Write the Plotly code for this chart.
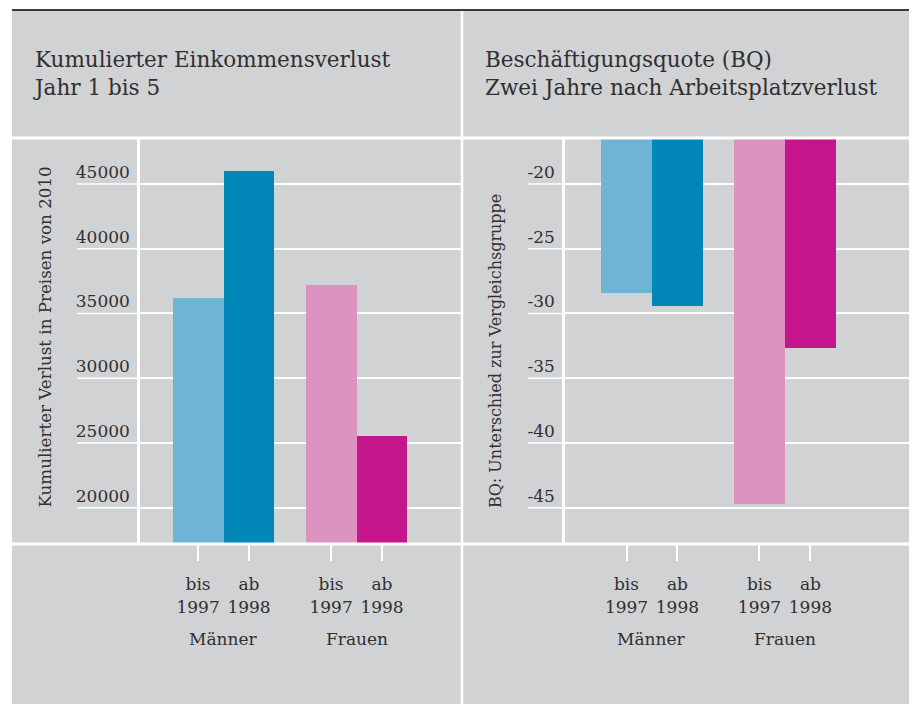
import plotly.graph_objects as go

# ---------------- data ----------------
groups = ["Männer", "Frauen"]
periods = ["bis<br>1997", "ab<br>1998"]

einkommen_bis_1997 = [36200, 37200]
einkommen_ab_1998 = [46000, 25500]

bq_bis_1997 = [-28.4, -44.7]
bq_ab_1998 = [-29.4, -32.7]

einkommen_ticks = [20000, 25000, 30000, 35000, 40000, 45000]
bq_ticks = [-45, -40, -35, -30, -25, -20]

title_left = "Kumulierter Einkommensverlust<br>Jahr 1 bis 5"
title_right = "Beschäftigungsquote (BQ)<br>Zwei Jahre nach Arbeitsplatzverlust"
ytitle_left = "Kumulierter Verlust in Preisen von 2010"
ytitle_right = "BQ: Unterschied zur Vergleichsgruppe"

# ---------------- style ----------------
OFF = 8                      # browser body margin
W, H = 917 - OFF, 704 - OFF
FONT = "DejaVu Serif"
TXT = "#303030"
GRAY = "#d1d2d4"
colors_bis = ["#70b4d5", "#dc93c0"]
colors_ab = ["#0087b8", "#c4168a"]
bar_w = 0.383


def fx(p):
    return (p - OFF) / W


def fy(p):
    return 1 - (p - OFF) / H


series = [(einkommen_bis_1997, einkommen_ab_1998), (bq_bis_1997, bq_ab_1998)]
offsets = [-bar_w / 2, bar_w / 2]

fig = go.Figure()
for k, (bis, ab) in enumerate(series):
    xa = "x" if k == 0 else "x2"
    ya = "y" if k == 0 else "y2"
    for i, (vals, cols) in enumerate([(bis, colors_bis), (ab, colors_ab)]):
        fig.add_trace(go.Bar(
            x=[g + offsets[i] for g in range(len(groups))],
            y=vals, width=bar_w, marker=dict(color=cols, line=dict(width=0)),
            xaxis=xa, yaxis=ya, showlegend=False, hoverinfo="skip"))

tickpos = [g + o for g in range(len(groups)) for o in offsets]
ticktext = [periods[i] for g in range(len(groups)) for i in range(len(offsets))]

ydom = [fy(543), fy(138)]
xcommon = dict(tickmode="array", tickvals=tickpos, ticktext=ticktext,
               ticks="outside", ticklen=17, tickwidth=2, tickcolor="white",
               showgrid=False, zeroline=False, showline=False,
               tickfont=dict(family=FONT, size=17, color=TXT),
               ticklabelstandoff=9, fixedrange=True)
ycommon = dict(ticks="", showgrid=True, gridcolor="white", gridwidth=1.5,
               zeroline=False, showline=True, linecolor="white", linewidth=2.5,
               tickfont=dict(family=FONT, size=17, color=TXT),
               ticklabelshift=-12, ticklabelstandoff=4, fixedrange=True)

fig.update_layout(
    width=W, height=H, margin=dict(l=0, r=0, t=0, b=0),
    paper_bgcolor="white", plot_bgcolor="rgba(0,0,0,0)",
    barmode="overlay", bargap=0,
    xaxis=dict(domain=[fx(140), fx(462)], range=[-0.628, 1.793], **xcommon),
    xaxis2=dict(domain=[fx(565), fx(911)], range=[-0.654, 1.948], anchor="y2", **xcommon),
    yaxis=dict(domain=ydom, range=[17274, 48553], tickmode="array",
               tickvals=einkommen_ticks, ticktext=[str(t) for t in einkommen_ticks],
               **ycommon),
    yaxis2=dict(domain=ydom, range=[-47.73, -16.45], tickmode="array",
                tickvals=bq_ticks, ticktext=[str(t) for t in bq_ticks], anchor="x2",
                **ycommon),
)

shapes = [
    dict(type="rect", xref="paper", yref="paper", x0=fx(12), x1=fx(911),
         y0=0, y1=fy(10), fillcolor=GRAY, line=dict(width=0), layer="below"),
]
# gridline extensions to the left of the axis lines
for t in einkommen_ticks:
    shapes.append(dict(type="line", xref="paper", yref="y", x0=fx(77), x1=fx(140),
                       y0=t, y1=t, line=dict(color="white", width=1.5), layer="below"))
for t in bq_ticks:
    shapes.append(dict(type="line", xref="paper", yref="y2", x0=fx(528), x1=fx(565),
                       y0=t, y1=t, line=dict(color="white", width=1.5), layer="below"))
shapes += [
    dict(type="line", xref="paper", yref="paper", x0=fx(12), x1=fx(911),
         y0=fy(10), y1=fy(10), line=dict(color="#3a3a3a", width=2), layer="above"),
    dict(type="line", xref="paper", yref="paper", x0=fx(12), x1=fx(911),
         y0=fy(138), y1=fy(138), line=dict(color="white", width=3), layer="above"),
    dict(type="line", xref="paper", yref="paper", x0=fx(12), x1=fx(911),
         y0=fy(544), y1=fy(544), line=dict(color="white", width=3), layer="above"),
    dict(type="line", xref="paper", yref="paper", x0=fx(462), x1=fx(462),
         y0=0, y1=fy(11), line=dict(color="white", width=2.5), layer="above"),
]
fig.update_layout(shapes=shapes)

ann = []
ann.append(dict(text=title_left, xref="paper", yref="paper", x=fx(31), y=fy(45),
                xanchor="left", yanchor="top", align="left", showarrow=False,
                font=dict(family=FONT, size=21.5, color=TXT)))
ann.append(dict(text=title_right, xref="paper", yref="paper", x=fx(483), y=fy(45),
                xanchor="left", yanchor="top", align="left", showarrow=False,
                font=dict(family=FONT, size=21.5, color=TXT)))
ann.append(dict(text=ytitle_left, xref="paper", yref="paper", x=fx(44), y=fy(510),
                xanchor="center", yanchor="bottom", textangle=-90, showarrow=False,
                font=dict(family=FONT, size=16.7, color=TXT)))
ann.append(dict(text=ytitle_right, xref="paper", yref="paper", x=fx(495), y=fy(510),
                xanchor="center", yanchor="bottom", textangle=-90, showarrow=False,
                font=dict(family=FONT, size=16, color=TXT)))
for k, xr in enumerate(["x", "x2"]):
    for g, name in enumerate(groups):
        ann.append(dict(text=name, xref=xr, yref="paper", x=g, y=fy(639),
                        xanchor="center", yanchor="middle", showarrow=False,
                        font=dict(family=FONT, size=17, color=TXT)))
fig.update_layout(annotations=ann)

fig.write_html("out.html")
